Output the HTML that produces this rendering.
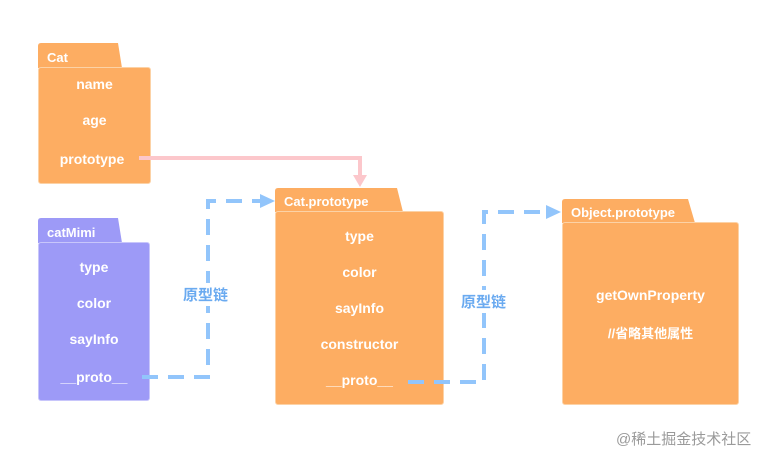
<!DOCTYPE html>
<html><head><meta charset="utf-8"><style>
body{margin:0;width:777px;height:463px;background:#fff;overflow:hidden;position:relative;font-family:"Liberation Sans","Noto Sans CJK SC",sans-serif}
.b{position:absolute;background:#fdad62;border:1px solid #fcd2a6;border-radius:3px;box-sizing:border-box}
.t{position:absolute;color:#fff;font-weight:bold;font-size:13px}
.c{position:absolute;color:#fff;font-weight:bold;font-size:14px;text-align:center}
.p{background:#9d9af7;border-color:#c8c6fb}
</style></head><body>
<svg width="777" height="463" style="position:absolute;left:0;top:0">
<path d="M38,68 L38,46 Q38,43 41,43 L118,43 L122,68 Z" fill="#fdad62"/>
<path d="M38,243 L38,221 Q38,218 41,218 L118,218 L122,243 Z" fill="#9d9af7"/>
<path d="M275,212 L275,191 Q275,188 278,188 L397,188 L403,212 Z" fill="#fdad62"/>
<path d="M562,223 L562,202 Q562,199 565,199 L688,199 L695,223 Z" fill="#fdad62"/>
</svg>
<div class="t" style="left:47px;top:50px">Cat</div>
<div class="t" style="left:47px;top:225px">catMimi</div>
<div class="t" style="left:284px;top:194px">Cat.prototype</div>
<div class="t" style="left:571px;top:205px">Object.prototype</div>
<div class="b" style="left:38px;top:67px;width:113px;height:117px"></div>
<div class="b p" style="left:38px;top:242px;width:112px;height:159px"></div>
<div class="b" style="left:275px;top:211px;width:169px;height:194px"></div>
<div class="b" style="left:562px;top:222px;width:177px;height:183px"></div>
<div class="c" style="left:38px;width:113px;top:76px">name</div>
<div class="c" style="left:38px;width:113px;top:112px">age</div>
<div class="c" style="left:38px;width:108px;top:151px">prototype</div>
<div class="c" style="left:38px;width:112px;top:259px">type</div>
<div class="c" style="left:38px;width:112px;top:295px">color</div>
<div class="c" style="left:38px;width:112px;top:331px">sayInfo</div>
<div class="c" style="left:38px;width:112px;top:369px">__proto__</div>
<div class="c" style="left:275px;width:169px;top:228px">type</div>
<div class="c" style="left:275px;width:169px;top:264px">color</div>
<div class="c" style="left:275px;width:169px;top:300px">sayInfo</div>
<div class="c" style="left:275px;width:169px;top:336px">constructor</div>
<div class="c" style="left:275px;width:169px;top:372px">__proto__</div>
<div class="c" style="left:562px;width:177px;top:287px">getOwnProperty</div>
<div class="c" style="left:562px;width:177px;top:323px;font-size:13px">//省略其他属性</div>
<svg width="777" height="463" style="position:absolute;left:0;top:0">
<path d="M139,158 L360,158 L360,176" fill="none" stroke="#fcc7cb" stroke-width="4"/>
<path d="M353,175 L367,175 L360,187 Z" fill="#fcc7cb"/>
<path d="M142,377 L208,377 L208,201 L262,201" fill="none" stroke="#92c5fb" stroke-width="4" stroke-dasharray="16,10"/>
<path d="M260,194 L275,201 L260,208 Z" fill="#92c5fb"/>
<path d="M408,382 L484,382 L484,212 L548,212" fill="none" stroke="#92c5fb" stroke-width="4" stroke-dasharray="16,10"/>
<path d="M546,205 L561,212 L546,219 Z" fill="#92c5fb"/>
</svg>
<div style="position:absolute;left:182px;top:283px;background:#fff;color:#6aaaf0;font-weight:bold;font-size:15px;padding:1px 1px">原型链</div>
<div style="position:absolute;left:460px;top:290px;background:#fff;color:#6aaaf0;font-weight:bold;font-size:15px;padding:1px 1px">原型链</div>
<div style="position:absolute;left:616px;top:428px;color:#9a9a9a;font-size:15px">@稀土掘金技术社区</div>
</body></html>
